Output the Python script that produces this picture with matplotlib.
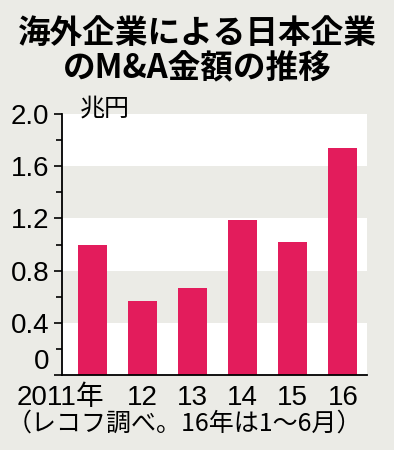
import numpy as np
import matplotlib.pyplot as plt
import matplotlib.transforms as mtransforms

plt.rcParams['font.family'] = ['Liberation Sans', 'Noto Sans CJK JP']

# data
years = ['2011年', '12', '13', '14', '15', '16']
values = [1.00, 0.57, 0.67, 1.19, 1.02, 1.74]
yticks = [0, 0.4, 0.8, 1.2, 1.6, 2.0]
ylabels = ['0', '0.4', '0.8', '1.2', '1.6', '2.0']
bands = [(0.4, 0.8), (1.2, 1.6)]

bg = '#ebebe6'
bar_color = '#e31c5c'
jp = ['Noto Sans CJK JP', 'DejaVu Sans']

fig = plt.figure(figsize=(3.94, 4.5), dpi=100, facecolor=bg)
ax = fig.add_axes([62/394, 1 - 375/450, (367-62)/394, (375-114)/450])
ax.set_facecolor('white')

# gray bands
for lo, hi in bands:
    ax.axhspan(lo, hi, color=bg, lw=0, zorder=0)

x = np.arange(len(years))
ax.bar(x, values, width=0.58, color=bar_color, zorder=2)

ax.set_xlim(-0.6, 5.48)
ax.set_ylim(0, 2.0)

ax.set_yticks(yticks)
ax.set_yticklabels(ylabels, fontsize=20)
ax.set_yticks(np.arange(0.2, 2.0, 0.4), minor=True)
ax.tick_params(axis='y', which='major', length=6, width=1.2, pad=3)
ax.tick_params(axis='y', which='minor', length=4, width=1.2)
ax.get_yticklabels()[0].set_verticalalignment('bottom')

ax.set_xticks(x)
ax.set_xticklabels(years, fontsize=20)
ax.tick_params(axis='x', length=0, pad=7)
# first label sits left of its bar
lab0 = ax.get_xticklabels()[0]
lab0.set_transform(lab0.get_transform() + mtransforms.ScaledTranslation(-32/100, 0, fig.dpi_scale_trans))

for s in ['top', 'right']:
    ax.spines[s].set_visible(False)
for s in ['left', 'bottom']:
    ax.spines[s].set_linewidth(1.3)

# unit
ax.text(-0.25, 2.04, '兆円', fontsize=18, ha='left', va='center', family=jp)

# title
fig.text(0.5, 1 - 33/450, '海外企業による日本企業', fontsize=23.5, fontweight='bold', ha='center', va='center', family=jp)
fig.text(0.5, 1 - 69/450, 'のM&A金額の推移', fontsize=23.5, fontweight='bold', ha='center', va='center', family=jp)

# source note
fig.text(184/394, 1 - 424/450, '（レコフ調べ。16年は1～6月）', fontsize=18, ha='center', va='center', family=jp)

fig.savefig('out.png', dpi=100, facecolor=bg)
